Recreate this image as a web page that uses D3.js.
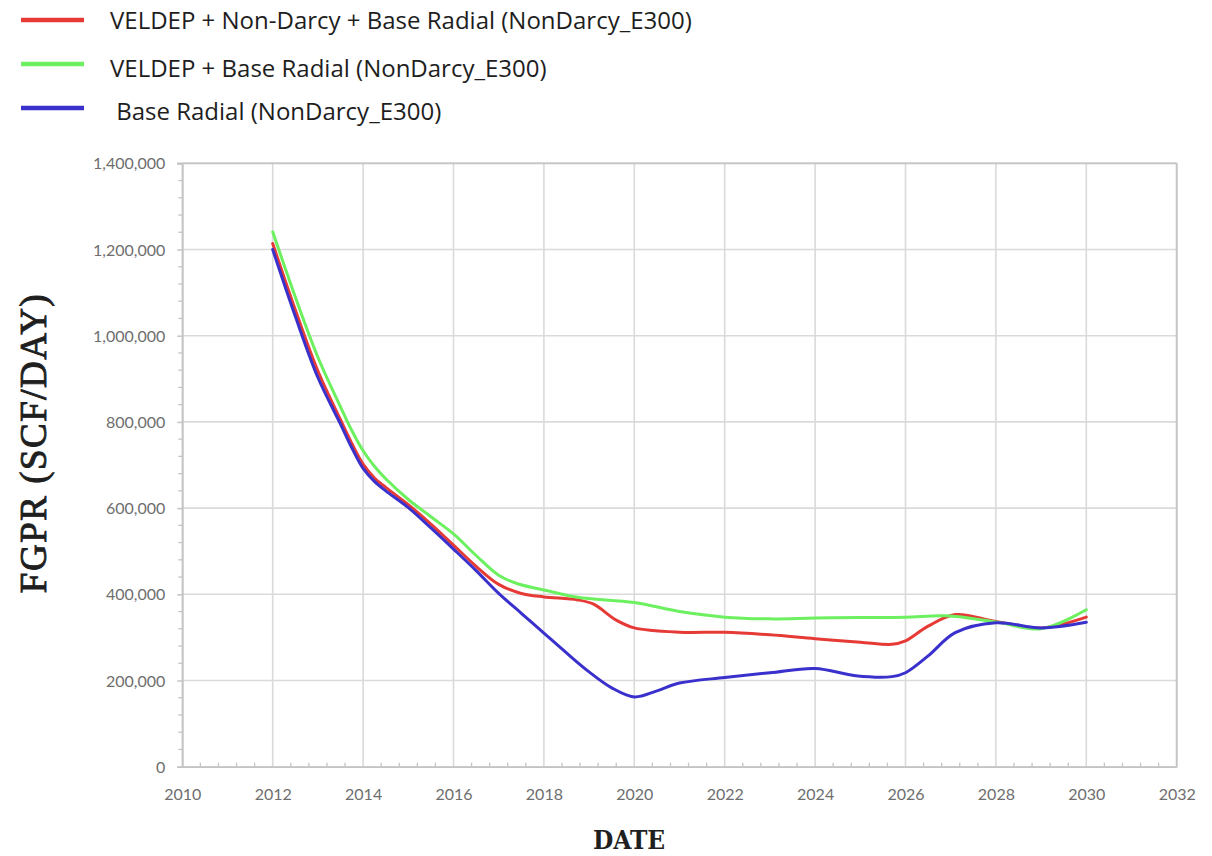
<!DOCTYPE html>
<html>
<head>
<meta charset="utf-8">
<script src="https://cdn.jsdelivr.net/npm/d3@7"></script>
<style>
  html, body { margin: 0; padding: 0; background: #fff; }
  svg { display: block; }
</style>
</head>
<body>
<svg id="chart" width="1212" height="856"></svg>
<script>
// Field gas production rate by simulation case
const seriesNames = [
  "VELDEP + Non-Darcy + Base Radial (NonDarcy_E300)",
  "VELDEP + Base Radial (NonDarcy_E300)",
  " Base Radial (NonDarcy_E300)"
];
const seriesColors = ["#e63a36", "#6cf060", "#3a30cc"];

const redYears = [2012, 2012.5, 2013, 2013.5, 2013.75, 2014, 2014.25, 2014.5, 2015, 2015.5, 2016, 2016.5, 2017, 2017.5, 2018, 2018.75, 2019.1, 2019.6, 2020, 2021, 2022, 2023, 2024, 2025, 2025.7, 2026, 2026.5, 2027.1, 2028, 2029, 2030];
const redValues = [1214000, 1060000, 918000, 805000, 750000, 702000, 670000, 648000, 608000, 563000, 514000, 465000, 423000, 402000, 394000, 387000, 377000, 340000, 322000, 312000, 312000, 306000, 297000, 289000, 284000, 292000, 326000, 353000, 337000, 322000, 347000];

const greenYears = [2012, 2012.5, 2013, 2013.5, 2013.75, 2014, 2014.25, 2014.5, 2015, 2015.5, 2016, 2016.5, 2017, 2017.4, 2018, 2018.75, 2020, 2021, 2022, 2023, 2024, 2025, 2026, 2026.9, 2028, 2029, 2030];
const greenValues = [1241000, 1090000, 950000, 835000, 780000, 733000, 697000, 668000, 620000, 580000, 540000, 490000, 444000, 425000, 410000, 393000, 381000, 360000, 347000, 343000, 345000, 346000, 347000, 350000, 336000, 320000, 364000];

const blueYears = [2012, 2012.5, 2013, 2013.5, 2013.75, 2014, 2014.25, 2014.5, 2015, 2015.5, 2016, 2016.5, 2017, 2017.5, 2018, 2018.5, 2019, 2019.5, 2020, 2020.5, 2021, 2022, 2023, 2024, 2024.9, 2025.7, 2026, 2026.5, 2027.1, 2028, 2029, 2030];
const blueValues = [1200000, 1045000, 903000, 795000, 740000, 692000, 662000, 640000, 601000, 554000, 505000, 455000, 402000, 356000, 310000, 264000, 220000, 183000, 162000, 176000, 194000, 207000, 218000, 228000, 211000, 209000, 218000, 257000, 311000, 334000, 322000, 335000];

const xTickValues = [2010, 2012, 2014, 2016, 2018, 2020, 2022, 2024, 2026, 2028, 2030, 2032];
const yTickValues = [0, 200000, 400000, 600000, 800000, 1000000, 1200000, 1400000];

const series = [
  { name: seriesNames[0], color: seriesColors[0], years: redYears, values: redValues },
  { name: seriesNames[1], color: seriesColors[1], years: greenYears, values: greenValues },
  { name: seriesNames[2], color: seriesColors[2], years: blueYears, values: blueValues }
];

const svg = d3.select("#chart");
const plot = { left: 182.3, right: 1176.7, top: 163.3, bottom: 766.7 };

const x = d3.scaleLinear().domain([2010, 2032]).range([plot.left, plot.right]);
const y = d3.scaleLinear().domain([0, 1400000]).range([plot.bottom, plot.top]);

const gridColor = "#dadada";
const axisColor = "#c4c4c4";
const labelColor = "#6e6e6e";

// grid
const grid = svg.append("g");
grid.selectAll("line.v").data(xTickValues).join("line")
  .attr("x1", d => x(d)).attr("x2", d => x(d))
  .attr("y1", plot.top).attr("y2", plot.bottom)
  .attr("stroke", gridColor).attr("stroke-width", 1.6);
grid.selectAll("line.h").data(yTickValues).join("line")
  .attr("x1", plot.left).attr("x2", plot.right)
  .attr("y1", d => y(d)).attr("y2", d => y(d))
  .attr("stroke", gridColor).attr("stroke-width", 1.6);

// minor ticks
const xMinor = d3.range(2010, 2032.001, 0.4).filter(v => Math.abs(v / 2 - Math.round(v / 2)) > 1e-6);
const yMinor = d3.range(0, 1400001, 40000).filter(v => v % 200000 !== 0);

const xAxis = d3.axisBottom(x).tickValues(xTickValues).tickFormat(d3.format("d")).tickSize(0).tickPadding(22);
const yAxis = d3.axisLeft(y).tickValues(yTickValues).tickFormat(d3.format(",")).tickSize(5).tickPadding(12);

const gx = svg.append("g").attr("transform", `translate(0,${plot.bottom})`).call(xAxis);
const gy = svg.append("g").attr("transform", `translate(${plot.left},0)`).call(yAxis);

[gx, gy].forEach(g => {
  g.select(".domain").attr("stroke", axisColor).attr("stroke-width", 1.8);
  g.selectAll(".tick line").attr("stroke", axisColor).attr("stroke-width", 1.5);
  g.selectAll(".tick text")
    .attr("fill", labelColor)
    .attr("font-family", "Lato, 'Open Sans', sans-serif")
    .attr("font-size", 16);
});
gy.selectAll(".tick text").attr("dy", "0.35em");

svg.append("g").selectAll("line").data(xMinor).join("line")
  .attr("x1", d => x(d)).attr("x2", d => x(d))
  .attr("y1", plot.bottom - 4).attr("y2", plot.bottom)
  .attr("stroke", axisColor).attr("stroke-width", 1.3);
svg.append("g").selectAll("line").data(yMinor).join("line")
  .attr("x1", plot.left - 4).attr("x2", plot.left)
  .attr("y1", d => y(d)).attr("y2", d => y(d))
  .attr("stroke", axisColor).attr("stroke-width", 1.3);

// top and right frame
svg.append("line").attr("x1", plot.left - 5).attr("x2", plot.right)
  .attr("y1", plot.top).attr("y2", plot.top)
  .attr("stroke", axisColor).attr("stroke-width", 1.8);
svg.append("line").attr("x1", plot.right).attr("x2", plot.right)
  .attr("y1", plot.top).attr("y2", plot.bottom)
  .attr("stroke", axisColor).attr("stroke-width", 1.8);

// series lines
const line = d3.line()
  .x(d => x(d[0]))
  .y(d => y(d[1]))
  .curve(d3.curveCatmullRom.alpha(0.5));

svg.append("g").selectAll("path").data(series).join("path")
  .attr("d", s => line(d3.zip(s.years, s.values)))
  .attr("fill", "none")
  .attr("stroke", s => s.color)
  .attr("stroke-width", 3)
  .attr("stroke-linejoin", "round")
  .attr("stroke-linecap", "round");

// legend
const legendRows = [
  { sampleY: 20, textY: 20, textX: 110 },
  { sampleY: 64, textY: 68, textX: 110 },
  { sampleY: 108, textY: 111, textX: 110 }
];
const legend = svg.append("g");
series.forEach((s, i) => {
  const r = legendRows[i];
  legend.append("line")
    .attr("x1", 21).attr("x2", 84)
    .attr("y1", r.sampleY).attr("y2", r.sampleY)
    .attr("stroke", s.color).attr("stroke-width", 4.5);
  legend.append("text")
    .attr("x", r.textX).attr("y", r.textY)
    .attr("dy", "0.36em")
    .attr("xml:space", "preserve")
    .style("white-space", "pre")
    .attr("font-family", "'Open Sans', Lato, sans-serif")
    .attr("font-size", 24)
    .attr("fill", "#1e1e1e")
    .text(s.name);
});

// axis titles
svg.append("text")
  .attr("transform", `translate(46,${443}) rotate(-90)`)
  .attr("text-anchor", "middle")
  .attr("font-family", "'Liberation Serif', 'DejaVu Serif', serif")
  .attr("font-size", 37)
  .attr("letter-spacing", 1.5)
  .attr("fill", "#1f1f1f")
  .attr("stroke", "#1f1f1f")
  .attr("stroke-width", 0.9)
  .text("FGPR (SCF/DAY)");

svg.append("text")
  .attr("x", 629).attr("y", 849)
  .attr("text-anchor", "middle")
  .attr("font-family", "'DejaVu Serif Condensed', 'Liberation Serif', serif")
  .attr("font-size", 26)
  .attr("font-weight", "bold")
  .attr("fill", "#1f1f1f")
  .text("DATE");
</script>
</body>
</html>
